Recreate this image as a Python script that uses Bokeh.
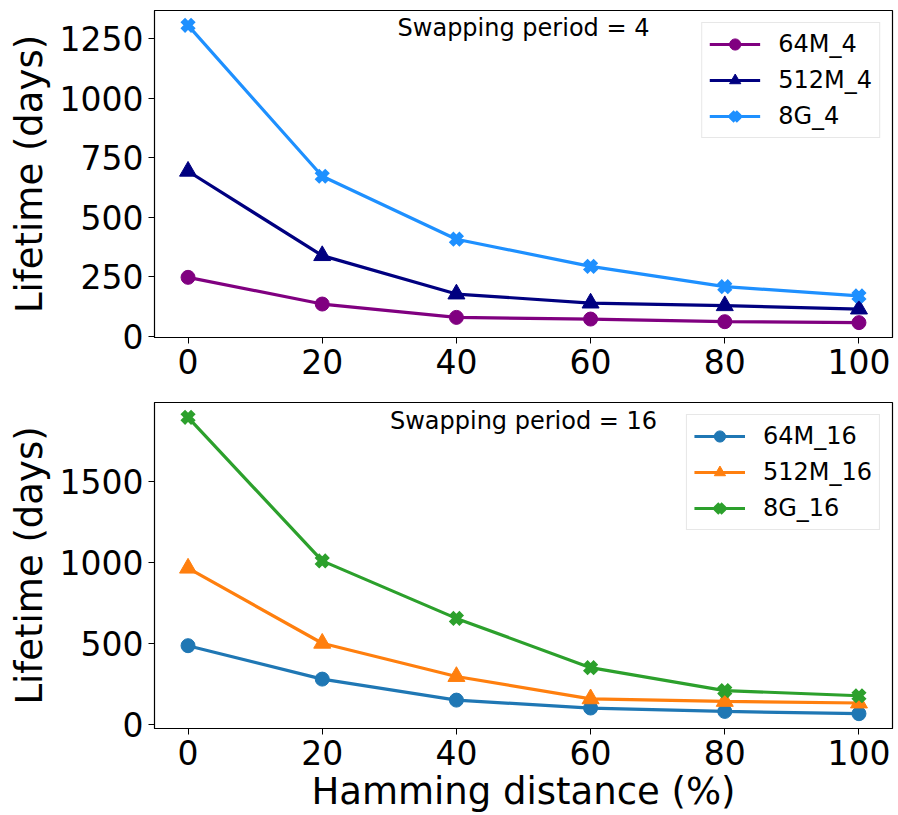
from bokeh.plotting import figure
from bokeh.layouts import column
from bokeh.models import Range1d, FixedTicker, Label
from bokeh.embed import file_html
from bokeh.resources import INLINE

hamming = [0, 20, 40, 60, 80, 100]

# Swapping period = 4
life_64M_4 = [248, 136, 80, 73, 62, 58]
life_512M_4 = [693, 339, 178, 140, 129, 115]
life_8G_4 = [1305, 672, 408, 294, 209, 170]

# Swapping period = 16
life_64M_16 = [485, 278, 148, 99, 78, 64]
life_512M_16 = [965, 500, 294, 156, 140, 130]
life_8G_16 = [1899, 1010, 654, 349, 207, 175]

labels_4 = ["64M_4", "512M_4", "8G_4"]
labels_16 = ["64M_16", "512M_16", "8G_16"]
colors_4 = ["#800080", "#000080", "#1e90ff"]
colors_16 = ["#1f77b4", "#ff7f0e", "#2ca02c"]
yticks_4 = [0, 250, 500, 750, 1000, 1250]
yticks_16 = [0, 500, 1000, 1500]
xticks = [0, 20, 40, 60, 80, 100]

FONT = "DejaVu Sans"


def margin_range(vals, frac=0.05):
    lo, hi = min(vals), max(vals)
    d = (hi - lo) * frac
    return lo - d, hi + d


def make_panel(series, labels, colors, yticks, title_text, title_y, height,
               border_top, border_bottom, xlabel=None):
    allv = [v for s in series for v in s]
    y0, y1 = margin_range(allv)
    x0, x1 = margin_range(hamming)
    p = figure(width=898, height=height, output_backend="svg", toolbar_location=None,
               x_range=Range1d(x0, x1), y_range=Range1d(y0, y1),
               min_border_left=154, min_border_right=6,
               min_border_top=border_top, min_border_bottom=border_bottom)
    p.xgrid.visible = False
    p.ygrid.visible = False
    p.outline_line_color = "black"
    p.outline_line_width = 1.2
    p.background_fill_color = "white"
    p.border_fill_color = "white"

    markers = ["circle", "triangle", "x"]
    sizes = [14, 17, 15]
    for s, lab, col, mk, sz in zip(series, labels, colors, markers, sizes):
        p.line(hamming, s, line_color=col, line_width=3.2, legend_label=lab)
        if mk == "x":
            p.scatter(hamming, s, marker="x", size=sz, line_color=col, line_width=6.5,
                      legend_label=lab)
        else:
            p.scatter(hamming, s, marker=mk, size=sz, fill_color=col, line_color=col,
                      legend_label=lab)

    for ax in (p.xaxis[0], p.yaxis[0]):
        ax.major_label_text_font = FONT
        ax.major_label_text_font_size = "33px"
        ax.major_label_text_color = "black"
        ax.axis_label_text_font = FONT
        ax.axis_label_text_font_size = "37px"
        ax.axis_label_text_font_style = "normal"
        ax.axis_label_text_color = "black"
        ax.major_tick_out = 6
        ax.major_tick_in = 0
        ax.minor_tick_out = 0
        ax.minor_tick_in = 0
        ax.major_tick_line_color = "black"
        ax.axis_line_color = "black"
        ax.major_label_standoff = 5
        ax.axis_label_standoff = 6
    p.xaxis[0].ticker = FixedTicker(ticks=xticks)
    p.yaxis[0].ticker = FixedTicker(ticks=yticks)
    p.yaxis[0].axis_label = "Lifetime (days)"
    if xlabel:
        p.xaxis[0].axis_label = xlabel
        p.xaxis[0].axis_label_standoff = 2

    p.add_layout(Label(x=50, y=title_y, text=title_text, text_align="center",
                       text_baseline="top", text_font=FONT, text_font_size="24px",
                       text_color="black"))

    lg = p.legend[0]
    lg.location = "top_right"
    lg.margin = 12
    lg.padding = 7
    lg.spacing = 8
    lg.glyph_width = 51
    lg.glyph_height = 28
    lg.label_height = 28
    lg.label_standoff = 18
    lg.label_text_font = FONT
    lg.label_text_font_size = "24px"
    lg.label_text_color = "black"
    lg.border_line_color = "#d0d0d0"
    lg.border_line_width = 1
    lg.background_fill_alpha = 0.85
    return p


p1 = make_panel([life_64M_4, life_512M_4, life_8G_4], labels_4, colors_4, yticks_4,
                "Swapping period = 4", 1352, 385, 10, 48)
p2 = make_panel([life_64M_16, life_512M_16, life_8G_16], labels_16, colors_16, yticks_16,
                "Swapping period = 16", 1965, 430, 17, 87,
                xlabel="Hamming distance (%)")

layout = column(p1, p2, spacing=0)
open("out.html", "w").write(file_html(layout, INLINE))
